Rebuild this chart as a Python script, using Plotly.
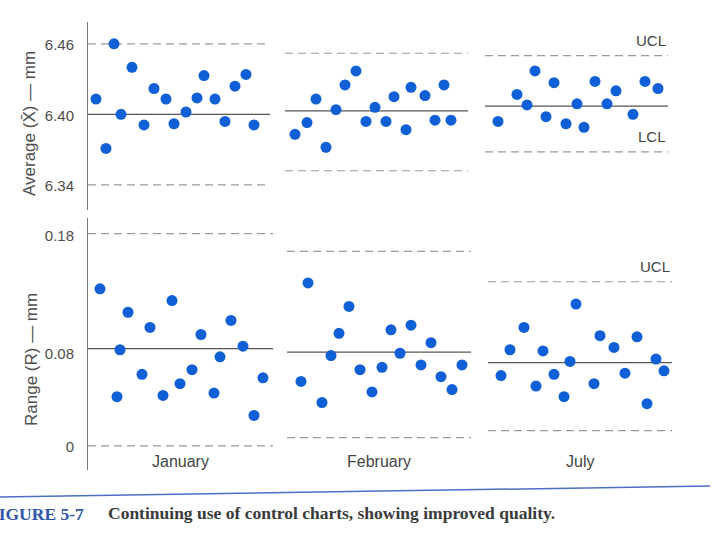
import plotly.graph_objects as go

# ---------------- data ----------------
months = ["January", "February", "July"]

# sample positions along the time axis (arbitrary units) and values
xbar_jan_x = [8, 18, 26, 33, 44, 56, 66, 78, 86, 98, 109, 116, 127, 137, 147, 158, 166]
xbar_jan_y = [6.414, 6.372, 6.461, 6.401, 6.441, 6.392, 6.423, 6.414, 6.393, 6.403,
              6.415, 6.434, 6.414, 6.395, 6.425, 6.435, 6.392]
xbar_feb_x = [207, 219, 228, 238, 248, 257, 268, 278, 287, 298, 306, 318, 323, 337, 347, 356, 363]
xbar_feb_y = [6.384, 6.394, 6.414, 6.373, 6.405, 6.426, 6.438, 6.395, 6.407, 6.395,
              6.416, 6.388, 6.424, 6.417, 6.396, 6.426, 6.396]
xbar_jul_x = [410, 429, 439, 447, 458, 466, 478, 489, 496, 507, 519, 528, 545, 557, 570]
xbar_jul_y = [6.395, 6.418, 6.409, 6.438, 6.399, 6.428, 6.393, 6.410, 6.390, 6.429,
              6.410, 6.421, 6.401, 6.429, 6.423]

r_jan_x = [12, 29, 32, 40, 54, 62, 75, 84, 92, 104, 113, 126, 132, 143, 155, 166, 175]
r_jan_y = [0.135, 0.043, 0.083, 0.115, 0.062, 0.102, 0.044, 0.125, 0.054, 0.066,
           0.096, 0.046, 0.077, 0.108, 0.086, 0.027, 0.059]
r_feb_x = [213, 220, 234, 243, 251, 261, 272, 284, 294, 303, 312, 323, 333, 343, 353, 364, 374]
r_feb_y = [0.056, 0.140, 0.038, 0.078, 0.097, 0.120, 0.066, 0.047, 0.068, 0.100,
           0.080, 0.104, 0.070, 0.089, 0.060, 0.049, 0.070]
r_jul_x = [413, 422, 436, 448, 455, 466, 476, 482, 488, 506, 512, 526, 537, 549, 559, 568, 576]
r_jul_y = [0.061, 0.083, 0.102, 0.052, 0.082, 0.062, 0.043, 0.073, 0.122, 0.054,
           0.095, 0.085, 0.063, 0.094, 0.037, 0.075, 0.065]

# control limits per month: (UCL, CL, LCL)
xbar_limits = [(6.461, 6.401, 6.341), (6.453, 6.404, 6.353), (6.451, 6.408, 6.369)]
r_limits = [(0.182, 0.084, 0.001), (0.167, 0.081, 0.008), (0.141, 0.072, 0.014)]

# time windows of each month on the axis (start, end)
xbar_spans = [(0, 182), (197, 380), (397, 580)]
r_spans = [(0, 185), (199, 383), (400, 584)]

xbar_ticks = [6.34, 6.40, 6.46]
r_ticks = [0, 0.08, 0.18]
r_ticktext = ["0", "0.08", "0.18"]

# ---------------- figure ----------------
W, H = 728, 545
ML, MR = 88, 28
PW = W - ML - MR


def py(p):
    return (H - p) / H


def px(p):
    return (p - ML) / PW


BLUE = "#0f5fd6"
DASH = "#9a9a9a"
CENTER = "#555555"
TXT = "#4d4d4d"
SANS = "Liberation Sans, Arial, sans-serif"
SERIF = "Liberation Serif, Times New Roman, serif"

fig = go.Figure()

panels = [
    ("x", "y", [(xbar_jan_x, xbar_jan_y), (xbar_feb_x, xbar_feb_y), (xbar_jul_x, xbar_jul_y)],
     xbar_limits, xbar_spans),
    ("x2", "y2", [(r_jan_x, r_jan_y), (r_feb_x, r_feb_y), (r_jul_x, r_jul_y)],
     r_limits, r_spans),
]

for xa, ya, series, limits, spans in panels:
    for (sx, sy), (ucl, cl, lcl), (a, b) in zip(series, limits, spans):
        for val, style in ((ucl, "dash"), (lcl, "dash"), (cl, "solid")):
            fig.add_trace(go.Scatter(
                x=[a, b], y=[val, val], mode="lines", xaxis=xa, yaxis=ya,
                line=dict(color=DASH if style == "dash" else CENTER,
                          width=1.2 if style == "dash" else 1.3,
                          dash="8px,5px" if style == "dash" else "solid"),
                hoverinfo="skip", showlegend=False))
        fig.add_trace(go.Scatter(
            x=sx, y=sy, mode="markers", xaxis=xa, yaxis=ya,
            marker=dict(size=11, color=BLUE, line=dict(width=0)),
            showlegend=False))

annotations = []
# UCL / LCL labels at the end of the July lines
lab_font = dict(family=SANS, size=15, color="#444")
annotations.append(dict(x=xbar_spans[2][1], y=xbar_limits[2][0], xref="x", yref="y", text="UCL",
                        showarrow=False, xanchor="right", yanchor="middle", yshift=15,
                        font=lab_font))
annotations.append(dict(x=xbar_spans[2][1], y=xbar_limits[2][2], xref="x", yref="y", text="LCL",
                        showarrow=False, xanchor="right", yanchor="middle", yshift=15,
                        font=lab_font))
annotations.append(dict(x=r_spans[2][1], y=r_limits[2][0], xref="x2", yref="y2", text="UCL",
                        showarrow=False, xanchor="right", yanchor="middle", yshift=15,
                        font=lab_font))

# month names under the R chart
for m, (a, b) in zip(months, r_spans):
    annotations.append(dict(x=(a + b) / 2, y=py(461), xref="x2", yref="paper", text=m,
                            showarrow=False, xanchor="center", yanchor="middle",
                            font=dict(family=SANS, size=16, color="#444")))

# y-axis titles
annotations.append(dict(x=px(29), y=py(124), xref="paper", yref="paper",
                        text="Average (X\u0304) \u2014 mm", textangle=-90, showarrow=False,
                        xanchor="center", yanchor="middle",
                        font=dict(family=SANS, size=17, color=TXT)))
annotations.append(dict(x=px(31), y=py(360), xref="paper", yref="paper",
                        text="Range (R) \u2014 mm", textangle=-90, showarrow=False,
                        xanchor="center", yanchor="middle",
                        font=dict(family=SANS, size=17, color=TXT)))

# caption
annotations.append(dict(x=px(86), y=py(514), xref="paper", yref="paper",
                        text="<b>FIGURE 5-7</b>", showarrow=False, xanchor="right",
                        yanchor="middle", font=dict(family=SERIF, size=17.5, color="#2f55a8")))
annotations.append(dict(x=px(106), y=py(513), xref="paper", yref="paper",
                        text="<b>Continuing use of control charts, showing improved quality.</b>",
                        showarrow=False, xanchor="left", yanchor="middle",
                        font=dict(family=SERIF, size=17.5, color="#3a3a3a")))

shapes = [
    dict(type="line", xref="paper", yref="paper",
         x0=px(0), x1=px(710), y0=py(497), y1=py(486),
         line=dict(color="#4a6fc4", width=1.5)),
]

fig.update_layout(
    width=W, height=H,
    margin=dict(l=ML, r=MR, t=0, b=0),
    paper_bgcolor="white", plot_bgcolor="white",
    showlegend=False,
    annotations=annotations, shapes=shapes,
    xaxis=dict(domain=[0, 1], range=[0, 612], visible=False, anchor="y"),
    xaxis2=dict(domain=[0, 1], range=[0, 612], visible=False, anchor="y2"),
    yaxis=dict(domain=[py(210), py(22)], range=[6.3196, 6.4796], anchor="x",
               showline=True, linecolor="#777", linewidth=1, showgrid=False, zeroline=False,
               tickmode="array", tickvals=xbar_ticks, ticktext=[f"{v:.2f}" for v in xbar_ticks],
               ticks="", ticklabelstandoff=10,
               tickfont=dict(family=SANS, size=15, color=TXT)),
    yaxis2=dict(domain=[py(470), py(218)], range=[-0.0196, 0.1954], anchor="x2",
                showline=True, linecolor="#777", linewidth=1, showgrid=False, zeroline=False,
                tickmode="array", tickvals=r_ticks, ticktext=r_ticktext,
                ticks="", ticklabelstandoff=10,
                tickfont=dict(family=SANS, size=15, color=TXT)),
)

fig.write_html("out.html")
